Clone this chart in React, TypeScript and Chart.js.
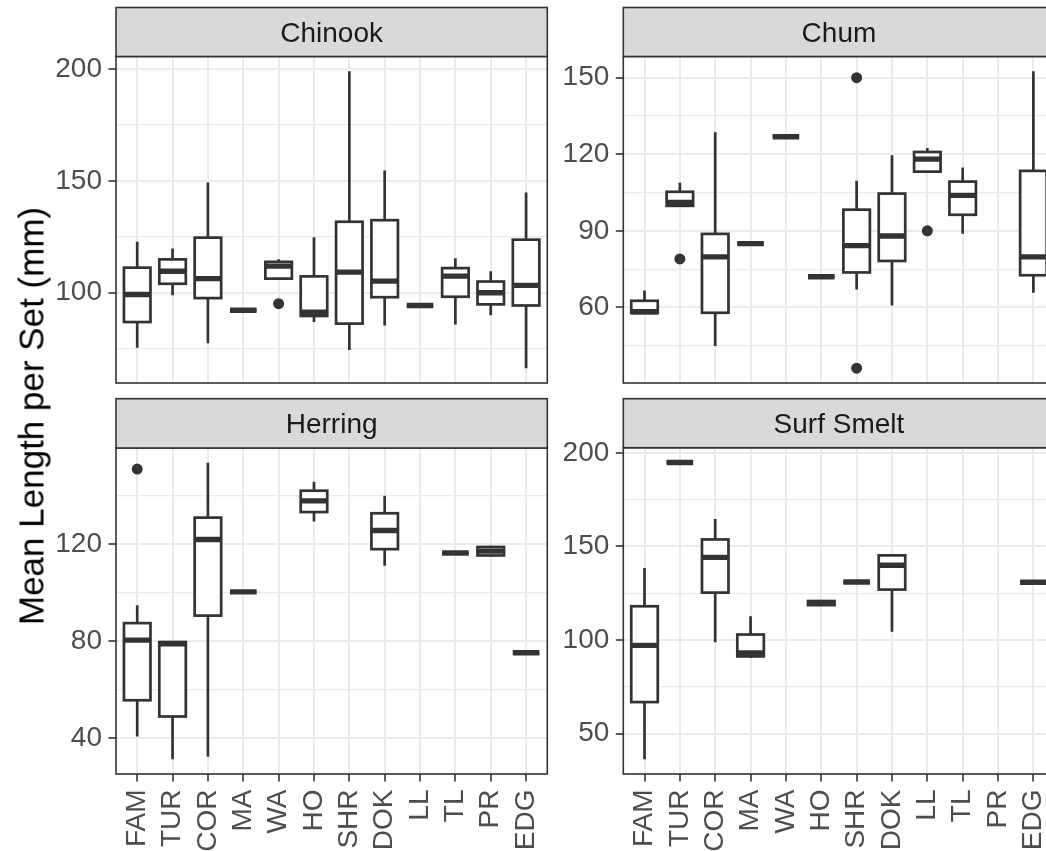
import React, { useEffect, useRef } from 'react';
import { Chart, registerables } from 'chart.js';

Chart.register(...registerables);

// ---------- data ----------
const categories = ['FAM', 'TUR', 'COR', 'MA', 'WA', 'HO', 'SHR', 'DOK', 'LL', 'TL', 'PR', 'EDG'];
const yAxisTitle = 'Mean Length per Set (mm)';

// each entry: [lower whisker, Q1, median, Q3, upper whisker] (null = no data)
const chinookBoxes: (number[] | null)[] = [
  [75.4, 86.9, 99.2, 111.2, 122.8],
  [98.9, 104, 109.6, 114.9, 119.8],
  [77.4, 97.6, 106.3, 124.6, 149.2],
  [92.2, 92.2, 92.2, 92.2, 92.2],
  [106.3, 106.3, 111.9, 113.8, 114.9],
  [86.9, 89.6, 91.3, 107.3, 124.8],
  [74.4, 86.2, 109.2, 131.7, 198.9],
  [85.4, 98, 105.2, 132.4, 154.6],
  [94.3, 94.3, 94.3, 94.3, 94.3],
  [85.8, 98.2, 107.4, 111, 115.4],
  [89.9, 94.8, 100, 105, 109.6],
  [66.3, 94.3, 103.3, 123.7, 144.8],
];
const chinookOutliers = [{ cat: 'WA', value: 95.1 }];
const chinookTicks = [100, 150, 200];

const chumBoxes: (number[] | null)[] = [
  [57.8, 57.8, 58.3, 62.6, 66.6],
  [99.8, 99.8, 101.1, 105.3, 108.8],
  [44.9, 57.9, 79.8, 88.8, 128.6],
  [85, 85, 85, 85, 85],
  [126.9, 126.9, 126.9, 126.9, 126.9],
  [72, 72, 72, 72, 72],
  [67, 73.7, 84.2, 98.3, 109.6],
  [60.8, 78.2, 88, 104.6, 119.6],
  [113.2, 113.2, 118.1, 120.9, 122.5],
  [88.9, 96.3, 103.9, 109.3, 114.8],
  null,
  [65.7, 72.6, 79.8, 113.5, 152.5],
];
const chumOutliers = [
  { cat: 'TUR', value: 79 },
  { cat: 'SHR', value: 150 },
  { cat: 'SHR', value: 36.2 },
  { cat: 'LL', value: 90 },
];
const chumTicks = [60, 90, 120, 150];

const herringBoxes: (number[] | null)[] = [
  [40.6, 55.5, 80.3, 87.3, 94.7],
  [31.2, 48.8, 78.8, 79.5, 79.5],
  [32.2, 90.4, 121.8, 130.8, 153.4],
  [100.2, 100.2, 100.2, 100.2, 100.2],
  null,
  [129.2, 133.1, 137.7, 141.9, 145.6],
  null,
  [111, 117.8, 125.5, 132.6, 139.8],
  null,
  [116.2, 116.2, 116.2, 116.2, 116.2],
  [114.8, 115.2, 117, 118.7, 119.2],
  [75.1, 75.1, 75.1, 75.1, 75.1],
];
const herringOutliers = [{ cat: 'FAM', value: 150.8 }];
const herringTicks = [40, 80, 120];

const smeltBoxes: (number[] | null)[] = [
  [36.3, 66.8, 97.1, 118, 138.5],
  [194.8, 194.8, 194.8, 194.8, 194.8],
  [98.8, 125.3, 144.1, 153.7, 164.6],
  [90.3, 91.2, 93, 102.9, 112.7],
  null,
  [118.4, 118.6, 119.8, 120.8, 121.2],
  [131, 131, 131, 131, 131],
  [104.4, 126.9, 139.9, 145.2, 145.2],
  null,
  null,
  null,
  [130.8, 130.8, 130.8, 130.8, 130.8],
];
const smeltOutliers: { cat: string; value: number }[] = [];
const smeltTicks = [50, 100, 150, 200];

// ---------- styling ----------
const FONT = '"Liberation Sans", Arial, Helvetica, sans-serif';
const INK = '#333333';
const GRID = '#EBEBEB';
const TICK_TEXT = '#4D4D4D';

type Spec = {
  title: string;
  boxes: (number[] | null)[];
  outliers: { cat: string; value: number }[];
  majors: number[];
  left: number;
  top: number;
  w: number;
  h: number;
  yAxisWidth: number;
  padRight: number;
  padTop: number;
  stripTop: number;
  xAxisHeight: number;
  showX: boolean;
};

const specs: Spec[] = [
  { title: 'Chinook', boxes: chinookBoxes, outliers: chinookOutliers, majors: chinookTicks,
    left: 0, top: 0, w: 600, h: 390, yAxisWidth: 116, padRight: 52.7, padTop: 56.5, stripTop: 7.5, xAxisHeight: 7, showX: false },
  { title: 'Chum', boxes: chumBoxes, outliers: chumOutliers, majors: chumTicks,
    left: 560, top: 0, w: 560, h: 390, yAxisWidth: 63.3, padRight: 65.4, padTop: 56.5, stripTop: 7.5, xAxisHeight: 7, showX: false },
  { title: 'Herring', boxes: herringBoxes, outliers: herringOutliers, majors: herringTicks,
    left: 0, top: 390, w: 600, h: 461, yAxisWidth: 116, padRight: 52.7, padTop: 58, stripTop: 8.7, xAxisHeight: 77, showX: true },
  { title: 'Surf Smelt', boxes: smeltBoxes, outliers: smeltOutliers, majors: smeltTicks,
    left: 560, top: 390, w: 560, h: 461, yAxisWidth: 63.3, padRight: 65.4, padTop: 57.7, stripTop: 8.7, xAxisHeight: 77, showX: true },
];

function dataRange(boxes: (number[] | null)[], outliers: { value: number }[]) {
  const vals: number[] = [];
  boxes.forEach((b) => { if (b) vals.push(...b); });
  outliers.forEach((o) => vals.push(o.value));
  const lo = Math.min(...vals);
  const hi = Math.max(...vals);
  const pad = (hi - lo) * 0.05;
  return [lo - pad, hi + pad];
}

function minorTicks(majors: number[], min: number, max: number) {
  const step = majors[1] - majors[0];
  const out: number[] = [];
  for (let v = majors[0] - step / 2; v <= max; v += step) if (v >= min) out.push(v);
  return out;
}

function boxPlugin(spec: Spec) {
  return {
    id: 'boxplots',
    afterDatasetsDraw(chart: any) {
      const { ctx, chartArea: a, scales } = chart;
      const xs = scales.x;
      const ys = scales.y;
      ctx.save();
      ctx.beginPath();
      ctx.rect(a.left, a.top, a.right - a.left, a.bottom - a.top);
      ctx.clip();
      ctx.strokeStyle = INK;
      spec.boxes.forEach((b, i) => {
        if (!b) return;
        const [lo, q1, med, q3, hi] = b;
        const xc = xs.getPixelForValue(i);
        const hw = xs.getPixelForValue(i + 0.375) - xc;
        ctx.lineWidth = 2.7;
        ctx.lineCap = 'butt';
        ctx.beginPath();
        ctx.moveTo(xc, ys.getPixelForValue(hi));
        ctx.lineTo(xc, ys.getPixelForValue(q3));
        ctx.moveTo(xc, ys.getPixelForValue(q1));
        ctx.lineTo(xc, ys.getPixelForValue(lo));
        ctx.stroke();
        const yTop = ys.getPixelForValue(q3);
        const yBot = ys.getPixelForValue(q1);
        ctx.fillStyle = '#ffffff';
        ctx.fillRect(xc - hw, yTop, hw * 2, yBot - yTop);
        ctx.strokeRect(xc - hw, yTop, hw * 2, yBot - yTop);
        ctx.lineWidth = 5.4;
        const ym = ys.getPixelForValue(med);
        ctx.beginPath();
        ctx.moveTo(xc - hw, ym);
        ctx.lineTo(xc + hw, ym);
        ctx.stroke();
      });
      ctx.restore();
      ctx.save();
      ctx.strokeStyle = INK;
      ctx.lineWidth = 1.6;
      ctx.strokeRect(a.left, a.top, a.right - a.left, a.bottom - a.top);
      ctx.restore();
    },
    afterDraw(chart: any) {
      const { ctx, chartArea: a } = chart;
      ctx.save();
      ctx.fillStyle = '#D9D9D9';
      ctx.fillRect(a.left, spec.stripTop, a.right - a.left, a.top - spec.stripTop);
      ctx.strokeStyle = INK;
      ctx.lineWidth = 1.6;
      ctx.strokeRect(a.left, spec.stripTop, a.right - a.left, a.top - spec.stripTop);
      ctx.fillStyle = '#1A1A1A';
      ctx.font = `28px ${FONT}`;
      ctx.textAlign = 'center';
      ctx.textBaseline = 'alphabetic';
      const cy = (spec.stripTop + a.top) / 2;
      ctx.fillText(spec.title, (a.left + a.right) / 2, cy + 0.716 * 28 / 2);
      ctx.restore();
    },
  };
}

function Panel({ spec }: { spec: Spec }) {
  const ref = useRef<HTMLCanvasElement>(null);
  useEffect(() => {
    const canvas = ref.current;
    if (!canvas) return;
    const [ymin, ymax] = dataRange(spec.boxes, spec.outliers);
    const minors = minorTicks(spec.majors, ymin, ymax);
    const allTicks = [...spec.majors.filter((v) => v >= ymin && v <= ymax), ...minors].sort((p, q) => p - q);
    const isMajor = (v: number) => spec.majors.includes(v);
    const chart = new Chart(canvas, {
      type: 'scatter',
      data: {
        datasets: [
          {
            data: spec.outliers.map((o) => ({ x: categories.indexOf(o.cat), y: o.value })),
            pointRadius: 5.5,
            pointHoverRadius: 5.5,
            backgroundColor: INK,
            borderWidth: 0,
          },
        ],
      },
      options: {
        responsive: false,
        animation: false,
        events: [],
        layout: { padding: { left: 0, right: spec.padRight, top: spec.padTop, bottom: 0 } },
        plugins: { legend: { display: false }, tooltip: { enabled: false }, title: { display: false } },
        scales: {
          x: {
            type: 'linear',
            min: -0.6,
            max: categories.length - 0.4,
            afterBuildTicks: (s: any) => {
              s.ticks = categories.map((_, i) => ({ value: i }));
            },
            afterFit: (s: any) => {
              s.height = spec.xAxisHeight;
              s.paddingLeft = 0;
              s.paddingRight = 0;
            },
            grid: { color: GRID, lineWidth: 2, drawTicks: spec.showX, tickLength: 7.5, tickColor: INK, tickWidth: 1.6 },
            border: { display: false },
            ticks: {
              display: spec.showX,
              autoSkip: false,
              minRotation: 90,
              maxRotation: 90,
              padding: 8,
              color: TICK_TEXT,
              font: { family: FONT, size: 28 },
              callback: (v: any) => categories[v as number] ?? '',
            },
          },
          y: {
            type: 'linear',
            min: ymin,
            max: ymax,
            afterBuildTicks: (s: any) => {
              s.ticks = allTicks.map((v) => ({ value: v }));
            },
            afterFit: (s: any) => {
              s.width = spec.yAxisWidth;
              s.paddingTop = 0;
              s.paddingBottom = 0;
            },
            grid: {
              color: GRID,
              lineWidth: (c: any) => (c.tick && isMajor(c.tick.value) ? 2 : 1.2),
              drawTicks: true,
              tickLength: 7.5,
              tickColor: (c: any) => (c.tick && isMajor(c.tick.value) ? INK : 'rgba(0,0,0,0)'),
              tickWidth: 1.6,
            },
            border: { display: false },
            ticks: {
              padding: 6.5,
              color: TICK_TEXT,
              font: { family: FONT, size: 28 },
              callback: (v: any) => (isMajor(v as number) ? String(v) : ''),
            },
          },
        },
      } as any,
      plugins: [boxPlugin(spec)],
    });
    return () => chart.destroy();
  }, [spec]);
  return (
    <canvas
      ref={ref}
      width={spec.w}
      height={spec.h}
      style={{ position: 'absolute', left: spec.left, top: spec.top, width: spec.w, height: spec.h }}
    />
  );
}

export default function App() {
  return (
    <div
      style={{
        position: 'fixed',
        left: 0,
        top: 0,
        width: 1046,
        height: 851,
        overflow: 'hidden',
        background: '#ffffff',
      }}
    >
      {specs.map((s) => (
        <Panel key={s.title} spec={s} />
      ))}
      <div
        style={{
          position: 'absolute',
          left: 31,
          top: 415.5,
          transform: 'translate(-50%, -50%) rotate(-90deg)',
          whiteSpace: 'nowrap',
          fontFamily: FONT,
          fontSize: 35,
          lineHeight: 1,
          color: '#000000',
        }}
      >
        {yAxisTitle}
      </div>
    </div>
  );
}
